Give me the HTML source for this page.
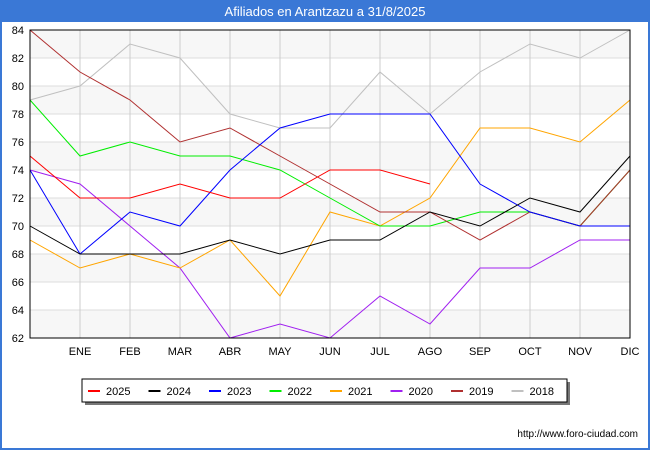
<!DOCTYPE html>
<html><head><meta charset="utf-8"><style>
body{margin:0;width:650px;height:450px;background:#fff;font-family:"Liberation Sans",sans-serif;overflow:hidden}
</style></head><body>
<svg width="650" height="450" xmlns="http://www.w3.org/2000/svg">
<rect x="0" y="0" width="650" height="450" fill="#3a78d6"/>
<rect x="2" y="22" width="646" height="426" fill="#fff"/>
<text x="325" y="16" text-anchor="middle" fill="#fff" font-size="13">Afiliados en Arantzazu a 31/8/2025</text>
<g id="grid"></g>
<g id="lines"></g>
<rect x="30" y="30" width="600" height="308" fill="none" stroke="#000" stroke-width="1"/>
<g id="legend"></g>
<text x="638" y="437" text-anchor="end" font-size="10" fill="#000">http://www.foro-ciudad.com</text>
</svg>
<script>
const months=["","ENE","FEB","MAR","ABR","MAY","JUN","JUL","AGO","SEP","OCT","NOV","DIC"];
const yTicks=[62,64,66,68,70,72,74,76,78,80,82,84];
const seriesNames=["2025","2024","2023","2022","2021","2020","2019","2018"];
const seriesColors=["#ff0000","#000000","#0000ff","#00ee00","#ffa500","#a020f0","#b03030","#c0c0c0"];
const s2025=[75,72,72,73,72,72,74,74,73];
const s2024=[70,68,68,68,69,68,69,69,71,70,72,71,75];
const s2023=[74,68,71,70,74,77,78,78,78,73,71,70,70];
const s2022=[79,75,76,75,75,74,72,70,70,71,71,70,74];
const s2021=[69,67,68,67,69,65,71,70,72,77,77,76,79];
const s2020=[74,73,70,67,62,63,62,65,63,67,67,69,69];
const s2019=[84,81,79,76,77,75,73,71,71,69,71,70,74];
const s2018=[79,80,83,82,78,77,77,81,78,81,83,82,84];
const allSeries=[s2025,s2024,s2023,s2022,s2021,s2020,s2019,s2018];
const drawOrder=[7,5,4,3,6,2,1,0];
const NS="http://www.w3.org/2000/svg";
const X=i=>30+i*50, Y=v=>338-(v-62)*14;
function mk(t,a,p){const e=document.createElementNS(NS,t);for(const k in a)e.setAttribute(k,a[k]);p.appendChild(e);return e;}
const g=document.getElementById('grid');
for(let i=0;i<yTicks.length-1;i++){if(i%2==0){const r=mk('rect',{x:30,y:Y(yTicks[i+1]),width:600,height:Y(yTicks[i])-Y(yTicks[i+1]),fill:'#f7f7f7'},g);

}}
yTicks.forEach(v=>{const l=mk('line',{x1:30,x2:630,y1:Y(v),y2:Y(v),stroke:'#ddd'},g);


const t=mk('text',{x:24,y:Y(v)+4,'text-anchor':'end','font-size':11},g);t.textContent=v;

});
months.forEach((m,i)=>{if(i==0)return;const l=mk('line',{x1:X(i),x2:X(i),y1:30,y2:338,stroke:'#ccc'},g);


const t=mk('text',{x:X(i),y:355,'text-anchor':'middle','font-size':11},g);t.textContent=m;

});
const L=document.getElementById('lines');
drawOrder.forEach(s=>{const p=mk('polyline',{points:allSeries[s].map((v,i)=>X(i)+','+Y(v)).join(' '),fill:'none',stroke:seriesColors[s],'stroke-width':1},L);

});
const lg=document.getElementById('legend');
mk('rect',{x:85,y:382,width:485,height:23,fill:'#777'},lg);
const box=mk('rect',{x:82,y:379,width:485,height:23,fill:'#fff',stroke:'#000'},lg);


seriesNames.forEach((n,i)=>{const x=88+i*60.5;
const l=mk('line',{x1:x,x2:x+12,y1:391,y2:391,stroke:seriesColors[i],'stroke-width':2},lg);


const t=mk('text',{x:x+18,y:395,'font-size':11},lg);t.textContent=n;

});
</script>
</body></html>
